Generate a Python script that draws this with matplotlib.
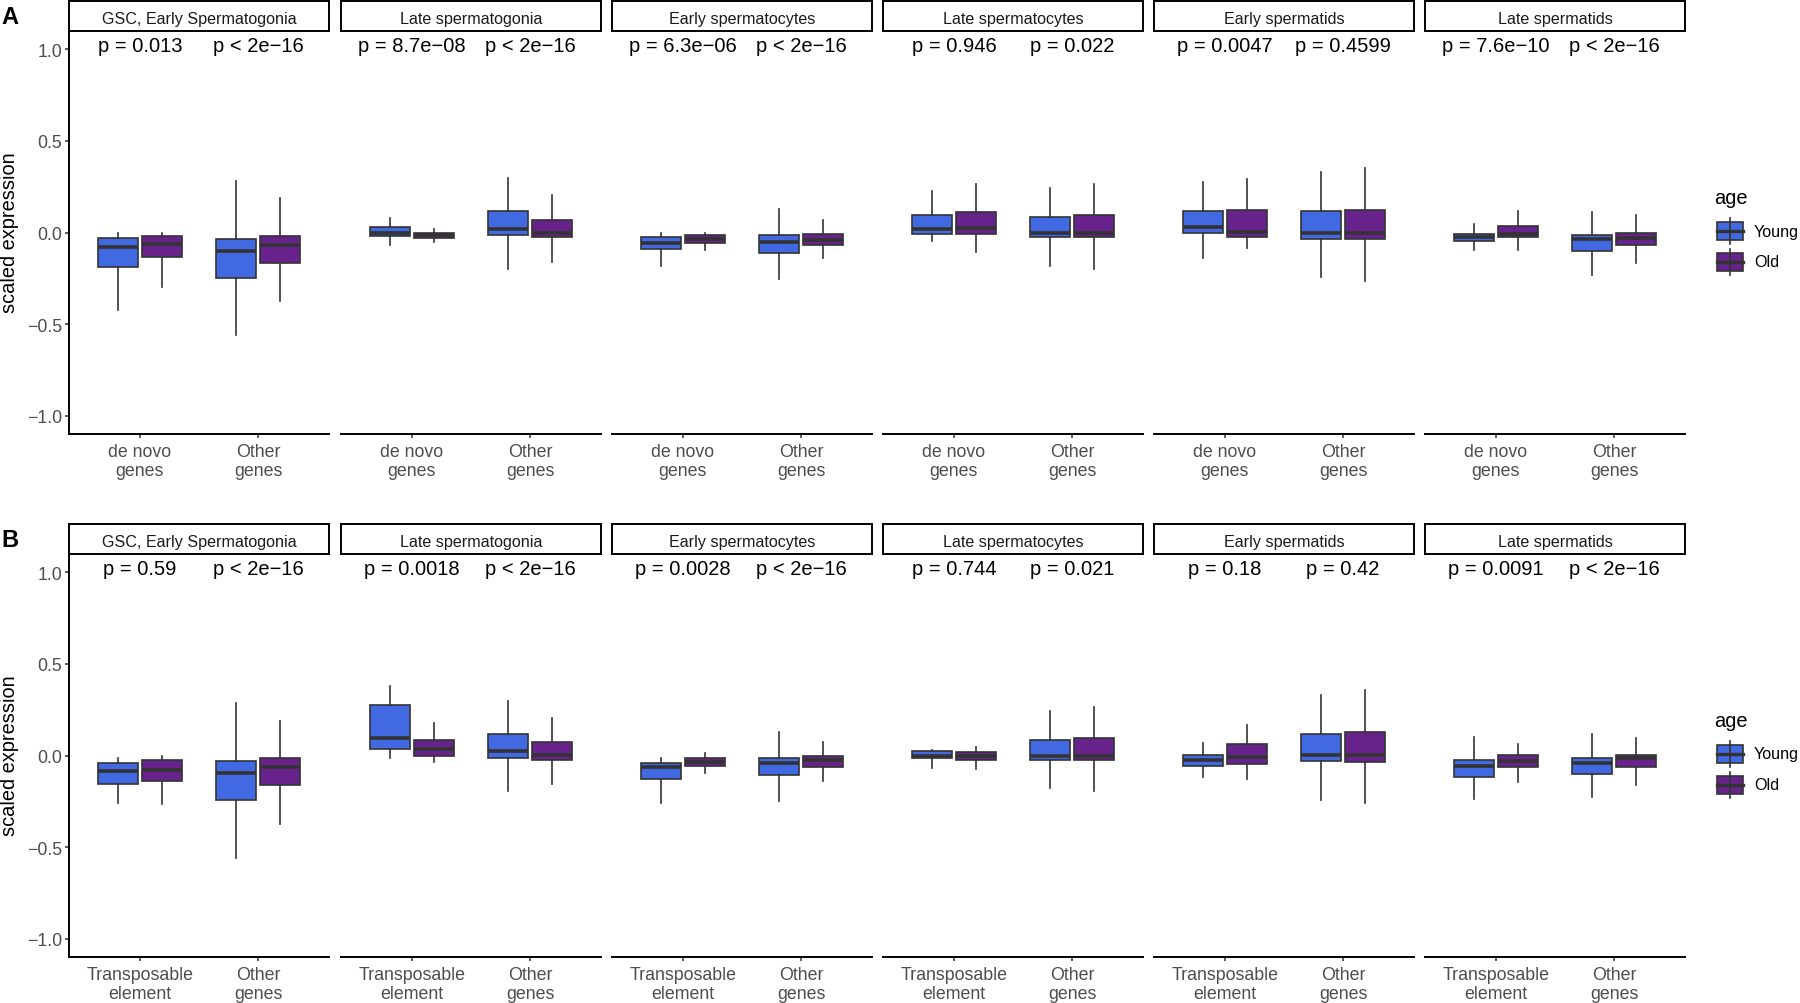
import matplotlib
matplotlib.use("Agg")
import matplotlib.pyplot as plt
from matplotlib.patches import Rectangle
from matplotlib.lines import Line2D

plt.rcParams['font.family'] = ['Liberation Sans', 'DejaVu Sans']

# ---------------- data ----------------
stages = ["GSC, Early Spermatogonia", "Late spermatogonia", "Early spermatocytes",
          "Late spermatocytes", "Early spermatids", "Late spermatids"]
groups_A = ["de novo\ngenes", "Other\ngenes"]
groups_B = ["Transposable\nelement", "Other\ngenes"]
ages = ["Young", "Old"]
age_colors = ["#4169E1", "#68228B"]
y_ticks = [-1.0, -0.5, 0.0, 0.5, 1.0]

# p-value labels (per stage: [group1, group2])
pvals_A = [["p = 0.013", "p < 2e\u221216"], ["p = 8.7e\u221208", "p < 2e\u221216"],
           ["p = 6.3e\u221206", "p < 2e\u221216"], ["p = 0.946", "p = 0.022"],
           ["p = 0.0047", "p = 0.4599"], ["p = 7.6e\u221210", "p < 2e\u221216"]]
pvals_B = [["p = 0.59", "p < 2e\u221216"], ["p = 0.0018", "p < 2e\u221216"],
           ["p = 0.0028", "p < 2e\u221216"], ["p = 0.744", "p = 0.021"],
           ["p = 0.18", "p = 0.42"], ["p = 0.0091", "p < 2e\u221216"]]

# Box statistics, 12 values each: stage1-group1, stage1-group2, stage2-group1, ...
A_young_lo  = [-0.423, -0.562, -0.069, -0.197, -0.182, -0.255, -0.049, -0.182, -0.137, -0.243, -0.095, -0.230]
A_young_q1  = [-0.188, -0.246, -0.018, -0.015, -0.091, -0.113, -0.007, -0.024, -0.004, -0.033, -0.049, -0.102]
A_young_med = [-0.080, -0.102,  0.000,  0.018, -0.060, -0.051,  0.018,  0.000,  0.031,  0.000, -0.022, -0.038]
A_young_q3  = [-0.030, -0.033,  0.029,  0.115, -0.024, -0.015,  0.097,  0.084,  0.117,  0.115, -0.007, -0.015]
A_young_hi  = [-0.005,  0.283,  0.078,  0.297, -0.005,  0.128,  0.226,  0.241,  0.277,  0.328,  0.044,  0.113]

A_old_lo    = [-0.297, -0.374, -0.053, -0.162, -0.097, -0.139, -0.109, -0.197, -0.082, -0.265, -0.095, -0.164]
A_old_q1    = [-0.133, -0.166, -0.029, -0.027, -0.057, -0.066, -0.007, -0.026, -0.022, -0.036, -0.024, -0.069]
A_old_med   = [-0.062, -0.068, -0.016, -0.004, -0.036, -0.040,  0.022,  0.000,  0.005,  0.000, -0.007, -0.029]
A_old_q3    = [-0.018, -0.020, -0.005,  0.069, -0.016, -0.007,  0.113,  0.093,  0.124,  0.122,  0.038,  0.000]
A_old_hi    = [-0.005,  0.188,  0.018,  0.203, -0.002,  0.069,  0.263,  0.265,  0.290,  0.352,  0.117,  0.093]

B_young_lo  = [-0.260, -0.559, -0.011, -0.195, -0.259, -0.251, -0.066, -0.177, -0.118, -0.244, -0.239, -0.224]
B_young_q1  = [-0.155, -0.244,  0.038, -0.011, -0.129, -0.109, -0.016, -0.024, -0.056, -0.031, -0.118, -0.100]
B_young_med = [-0.087, -0.098,  0.095,  0.026, -0.062, -0.040, -0.004,  0.000, -0.026,  0.004, -0.055, -0.040]
B_young_q3  = [-0.042, -0.029,  0.273,  0.115, -0.040, -0.011,  0.026,  0.087,  0.002,  0.118, -0.026, -0.011]
B_young_hi  = [-0.011,  0.288,  0.379,  0.300, -0.013,  0.129,  0.030,  0.244,  0.069,  0.330,  0.102,  0.115]

B_old_lo    = [-0.266, -0.372, -0.035, -0.157, -0.095, -0.137, -0.071, -0.193, -0.126, -0.259, -0.142, -0.160]
B_old_q1    = [-0.140, -0.162, -0.004, -0.024, -0.056, -0.062, -0.022, -0.024, -0.044, -0.033, -0.064, -0.064]
B_old_med   = [-0.078, -0.064,  0.038,  0.002, -0.035, -0.026, -0.002,  0.000, -0.009,  0.004, -0.029, -0.016]
B_old_q3    = [-0.027, -0.016,  0.086,  0.071, -0.013, -0.004,  0.020,  0.095,  0.062,  0.128,  0.005,  0.002]
B_old_hi    = [-0.002,  0.191,  0.177,  0.206,  0.015,  0.071,  0.049,  0.266,  0.166,  0.355,  0.064,  0.097]

rowA = dict(letter="A", groups=groups_A, pvals=pvals_A,
            stats=[(A_young_lo, A_young_q1, A_young_med, A_young_q3, A_young_hi),
                   (A_old_lo, A_old_q1, A_old_med, A_old_q3, A_old_hi)])
rowB = dict(letter="B", groups=groups_B, pvals=pvals_B,
            stats=[(B_young_lo, B_young_q1, B_young_med, B_young_q3, B_young_hi),
                   (B_old_lo, B_old_q1, B_old_med, B_old_q3, B_old_hi)])

# ---------------- layout ----------------
W, H = 1800, 1004
fig = plt.figure(figsize=(W / 100, H / 100), dpi=100)


def rect(l, t, w, h):
    return [l / W, 1 - (t + h) / H, w / W, h / H]


panel_left = [69, 341, 612, 883, 1154, 1425]
panel_w = 260
panel_h = 403
row_offsets = [0, 523]
EDGE = "#333333"
TICKC = "#4D4D4D"

for r, row in enumerate([rowA, rowB]):
    off = row_offsets[r]
    for i, stage in enumerate(stages):
        ax = fig.add_axes(rect(panel_left[i], 32 + off, panel_w, panel_h))
        ax.set_xlim(0.4, 2.6)
        ax.set_ylim(-1.1, 1.1)
        for a in range(2):
            lo, q1, med, q3, hi = row["stats"][a]
            bstats, pos = [], []
            for k in range(2):
                idx = 2 * i + k
                bstats.append(dict(whislo=lo[idx], q1=q1[idx], med=med[idx],
                                   q3=q3[idx], whishi=hi[idx], fliers=[]))
                pos.append(k + 1 + (a - 0.5) * 0.375)
            ax.bxp(bstats, positions=pos, widths=0.3375, patch_artist=True,
                   showfliers=False, showcaps=False,
                   boxprops=dict(facecolor=age_colors[a], edgecolor=EDGE, linewidth=1.2),
                   medianprops=dict(color=EDGE, linewidth=2.6, solid_capstyle="butt"),
                   whiskerprops=dict(color=EDGE, linewidth=1.2))
        for k in range(2):
            ax.text(k + 1, 0.99, row["pvals"][i][k], ha="center", va="baseline",
                    fontsize=14.5, color="black")
        ax.spines["top"].set_visible(False)
        ax.spines["right"].set_visible(False)
        ax.spines["bottom"].set_linewidth(1.4)
        ax.spines["bottom"].set_color("black")
        ax.set_xticks([1, 2])
        ax.set_xticklabels(row["groups"], fontsize=12.8, color=TICKC, linespacing=1.15)
        ax.tick_params(axis="x", length=3, width=1.1, color=EDGE, pad=3.5)
        ax.set_yticks(y_ticks)
        if i == 0:
            ax.spines["left"].set_linewidth(1.4)
            ax.spines["left"].set_color("black")
            ax.set_yticklabels([f"{v:.1f}".replace("-", "\u2212") for v in y_ticks],
                               fontsize=12.8, color=TICKC)
            ax.tick_params(axis="y", length=3, width=1.1, color=EDGE, pad=2)
        else:
            ax.spines["left"].set_visible(False)
            ax.tick_params(axis="y", left=False, labelleft=False)
        ax.patch.set_alpha(0)

        # strip
        sax = fig.add_axes(rect(panel_left[i], 2 + off, panel_w, 30))
        sax.set_xticks([])
        sax.set_yticks([])
        for s in sax.spines.values():
            s.set_linewidth(1.4)
            s.set_color("black")
        sax.text(0.5, 0.47, stage, ha="center", va="center_baseline", fontsize=11.6,
                 color="#1A1A1A", transform=sax.transAxes)

    fig.text(10 / W, 1 - (18 + off) / H, row["letter"], fontsize=17, fontweight="bold",
             ha="center", va="center")
    fig.text(10 / W, 1 - (233 + off) / H, "scaled expression", rotation=90,
             fontsize=14.4, ha="center", va="center")

# legends (drawn in pixel coordinates on an overlay)
ov = fig.add_axes([0, 0, 1, 1])
ov.set_xlim(0, W)
ov.set_ylim(H, 0)
ov.axis("off")
ov.patch.set_alpha(0)
for r in range(2):
    off = row_offsets[r]
    ov.text(1714, 199 + off, "age", fontsize=14.4, ha="left", va="center")
    for a, name in enumerate(ages):
        cy = 232 + off + a * 31
        ov.add_line(Line2D([1730, 1730], [cy - 13, cy + 13], color=EDGE, lw=1.2))
        ov.add_patch(Rectangle((1717, cy - 9), 26, 18, facecolor=age_colors[a],
                               edgecolor=EDGE, lw=1.2))
        ov.add_line(Line2D([1717, 1743], [cy, cy], color=EDGE, lw=2.4))
        ov.text(1754, cy, name, fontsize=11.6, ha="left", va="center")

fig.savefig("out.png", dpi=100)
